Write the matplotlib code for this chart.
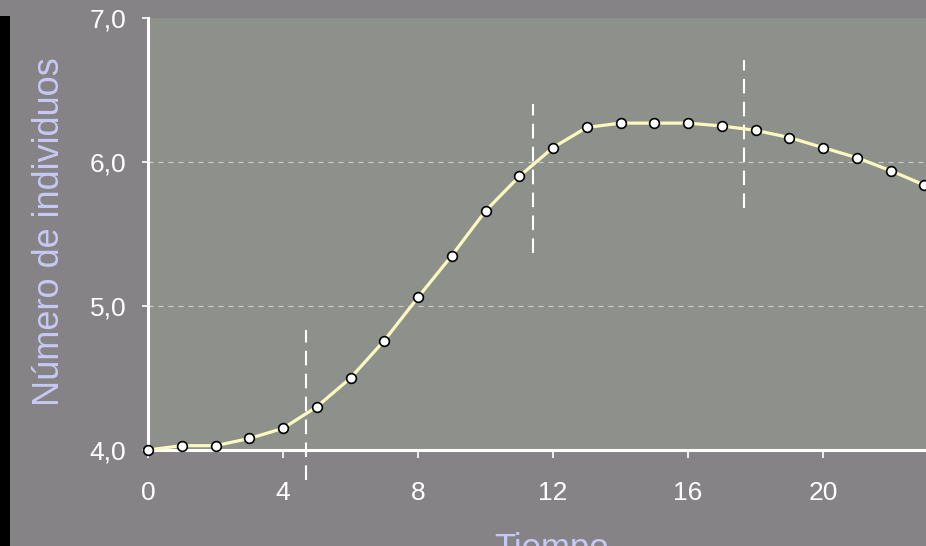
import matplotlib
matplotlib.use("Agg")
import matplotlib.pyplot as plt
from matplotlib.patches import Rectangle

# Data
tiempo = list(range(0, 24))
individuos = [4.00, 4.03, 4.03, 4.08, 4.15, 4.30, 4.50, 4.76, 5.06, 5.35, 5.66, 5.90,
              6.10, 6.24, 6.27, 6.27, 6.27, 6.25, 6.22, 6.17, 6.10, 6.03, 5.94, 5.84]
vline_x = [4.68, 11.4, 17.66]
vline_ymin = [3.79, 5.37, 5.68]
vline_ymax = [4.83, 6.40, 6.71]
xticks = [0, 4, 8, 12, 16, 20]
yticks = [4.0, 5.0, 6.0, 7.0]
ytick_labels = ["4,0", "5,0", "6,0", "7,0"]

plt.rcParams['font.family'] = ['Liberation Sans', 'DejaVu Sans']

fig = plt.figure(figsize=(9.26, 5.46), dpi=100)
fig.patch.set_facecolor('#858385')
fig.patches.append(Rectangle((0, 0), 10 / 926, 1 - 16 / 546, transform=fig.transFigure,
                             facecolor='black', edgecolor='none', zorder=0))

ax = fig.add_axes([148 / 926, 1 - 450 / 546, 1 - 148 / 926, (450 - 18) / 546])
ax.set_facecolor('#8e908b')
ax.set_xlim(0, 23.05)
ax.set_ylim(4.0, 7.0)

for sp in ['top', 'right']:
    ax.spines[sp].set_visible(False)
for sp in ['left', 'bottom']:
    ax.spines[sp].set_color('white')
    ax.spines[sp].set_linewidth(2.2)

ax.set_xticks(xticks)
ax.set_xticklabels([str(t) for t in xticks])
ax.set_yticks(yticks)
ax.set_yticklabels(ytick_labels)
ax.tick_params(axis='both', colors='white', labelcolor='white', labelsize=19,
               direction='out', width=1.2)
ax.tick_params(axis='x', length=6, pad=16)
ax.tick_params(axis='y', length=4.5, pad=11)

for y in [5.0, 6.0]:
    ax.axhline(y, color='#c8c8c8', linestyle=(0, (4, 4)), linewidth=0.9, zorder=1)

ax.plot(tiempo, individuos, color='#fafac0', linewidth=2.3, zorder=3, clip_on=False)
ax.plot(tiempo, individuos, linestyle='none', marker='o', markersize=7,
        markerfacecolor='white', markeredgecolor='black', markeredgewidth=1.2,
        zorder=4, clip_on=False)

for x, y0, y1 in zip(vline_x, vline_ymin, vline_ymax):
    ax.plot([x, x], [y0, y1], color='white', linestyle=(0, (7, 4)), linewidth=1.5,
            zorder=2, clip_on=False)

fig.text(50 / 926, 1 - 232 / 546, 'Número de individuos', color='#c8c8f4', fontsize=26,
         rotation=90, ha='center', va='center')
fig.text(552 / 926, 1 - 558 / 546, 'Tiempo', color='#c8c8f4', fontsize=25,
         ha='center', va='baseline')

fig.savefig('out.png', dpi=100, facecolor=fig.get_facecolor())
